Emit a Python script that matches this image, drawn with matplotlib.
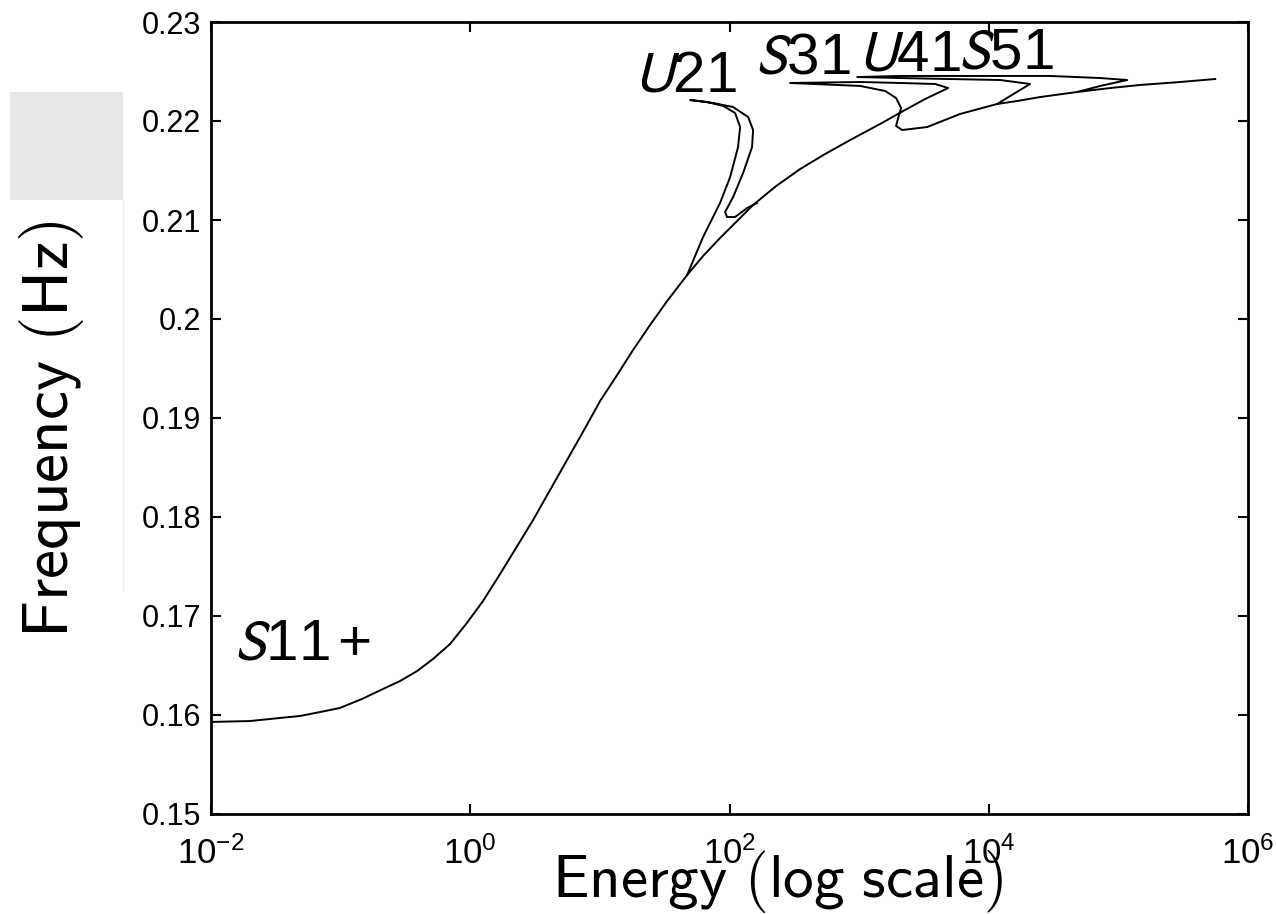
import matplotlib
matplotlib.use("Agg")
import matplotlib.pyplot as plt
from matplotlib.patches import Rectangle
from matplotlib.ticker import NullLocator, FixedLocator
import numpy as np

plt.rcParams["font.family"] = ["Liberation Sans", "DejaVu Sans"]
plt.rcParams["mathtext.default"] = "regular"

# backbone S11+ and the S31 / U41 / S51 tongues traced as one continuation path
main_log_energy = [-2.0, -1.699, -1.468, -1.313, -1.159, -1.005, -0.835, -0.673, -0.542,
                   -0.410, -0.287, -0.156, -0.032, 0.099, 0.230, 0.353, 0.485, 0.616,
                   0.747, 0.878, 1.002, 1.133, 1.256, 1.387, 1.519, 1.673, 1.796,
                   1.927, 2.059, 2.182, 2.360, 2.545, 2.738, 2.931,
                   3.162, 3.340, 3.509, 3.687,
                   3.586, 3.316, 3.008, 2.468,
                   3.008, 3.201, 3.285, 3.324, 3.301, 3.285, 3.332, 3.525, 3.779, 4.065,
                   4.204, 4.319,
                   4.088, 3.702, 3.316, 2.985,
                   3.316, 4.088, 4.474, 4.860, 5.068,
                   4.860, 4.682,
                   4.937, 5.168, 5.477, 5.747]
main_freq = [0.1593, 0.15939, 0.1597, 0.1599, 0.1603, 0.16071, 0.16162, 0.16263, 0.16343,
             0.16444, 0.16566, 0.16717, 0.16919, 0.17152, 0.17424, 0.17687, 0.1797, 0.18273,
             0.18576, 0.18879, 0.19172, 0.19434, 0.19687, 0.19939, 0.20182, 0.20444, 0.20636,
             0.20818, 0.2099, 0.21152, 0.21343, 0.21515, 0.21667, 0.21808,
             0.2197, 0.22101, 0.22222, 0.22333,
             0.22374, 0.22384, 0.22394, 0.22384,
             0.22354, 0.22303, 0.22232, 0.22131, 0.2203, 0.21949, 0.21909, 0.21939, 0.22071, 0.22172,
             0.22283, 0.22374,
             0.22414, 0.22424, 0.22434, 0.22444,
             0.22455, 0.22455, 0.22455, 0.22434, 0.22414,
             0.22354, 0.22293,
             0.22333, 0.22364, 0.22394, 0.22424]

# short lower piece under the U41 fold
lower_log_energy = [4.065, 4.219, 4.397, 4.682]
lower_freq = [0.22172, 0.22202, 0.22242, 0.22293]

# U21 tongue: inner side up to the tip, outer side back down to the backbone
u21_log_energy = [1.673, 1.796, 1.927, 2.005, 2.066, 2.082, 2.043, 1.951, 1.827, 1.696,
                  1.873, 2.028, 2.144, 2.182, 2.174, 2.105, 2.028, 1.966, 1.981, 2.043,
                  2.136, 2.213]
u21_freq = [0.20444, 0.20828, 0.21172, 0.21434, 0.21737, 0.21939, 0.22081, 0.22152, 0.22192, 0.22212,
            0.22182, 0.22141, 0.2204, 0.21909, 0.21737, 0.21475, 0.21232, 0.21081, 0.2103, 0.2103,
            0.21121, 0.21172]

branch_labels = [r"$\mathit{U}21$", r"$\mathit{S}31$", r"$\mathit{U}41$", r"$\mathit{S}51$",
                 r"$\mathit{S}11\,{+}$"]
label_log_energy = [1.262, 2.198, 2.992, 3.764, -1.82]
label_freq = [0.22293, 0.22475, 0.22515, 0.22535, 0.16556]

yticks = [0.15, 0.16, 0.17, 0.18, 0.19, 0.2, 0.21, 0.22, 0.23]
xticks = [1e-2, 1e0, 1e2, 1e4, 1e6]

fig = plt.figure(figsize=(12.76, 9.14), dpi=100)
fig.add_artist(Rectangle((10 / 1276, (914 - 200) / 914), 113 / 1276, 108 / 914,
                         transform=fig.transFigure, color="#e8e8e8", lw=0, zorder=0))
fig.add_artist(plt.Line2D([123 / 1276, 123 / 1276], [(914 - 590) / 914, (914 - 200) / 914],
                          transform=fig.transFigure, color="#eeeeee", lw=1, zorder=0))

ax = fig.add_axes([211 / 1276, 100 / 914, 1037 / 1276, 792 / 914])
ax.patch.set_alpha(0)

lw = 1.4
ax.plot(10 ** np.array(main_log_energy), main_freq, color="black", lw=lw)
ax.plot(10 ** np.array(lower_log_energy), lower_freq, color="black", lw=lw)
ax.plot(10 ** np.array(u21_log_energy), u21_freq, color="black", lw=lw)

for txt, le, fq in zip(branch_labels, label_log_energy, label_freq):
    ax.text(10 ** le, fq, txt, fontsize=42, math_fontfamily="stixsans",
            ha="left", va="baseline")

ax.set_xscale("log")
ax.set_xlim(1e-2, 1e6)
ax.set_ylim(0.15, 0.23)
ax.xaxis.set_major_locator(FixedLocator(xticks))
ax.xaxis.set_minor_locator(NullLocator())
ax.set_yticks(yticks)
ax.set_yticklabels(["%g" % v for v in yticks])

ax.tick_params(which="both", direction="in", top=True, right=True, length=7,
               width=1.5, labelsize=22)
ax.tick_params(axis="x", pad=16, labelsize=25)
ax.tick_params(axis="y", pad=7)
for sp in ax.spines.values():
    sp.set_linewidth(2)

fig.text(778 / 1276, (914 - 897) / 914, r"$\mathsf{Energy\ (log\ scale)}$",
         fontsize=44, math_fontfamily="cm", ha="center", va="baseline")
fig.text(52 / 1276, (914 - 429) / 914, r"$\mathsf{Frequency\ (Hz)}$",
         fontsize=47, math_fontfamily="cm", ha="center", va="center", rotation=90)

fig.savefig("out.png", dpi=100)
